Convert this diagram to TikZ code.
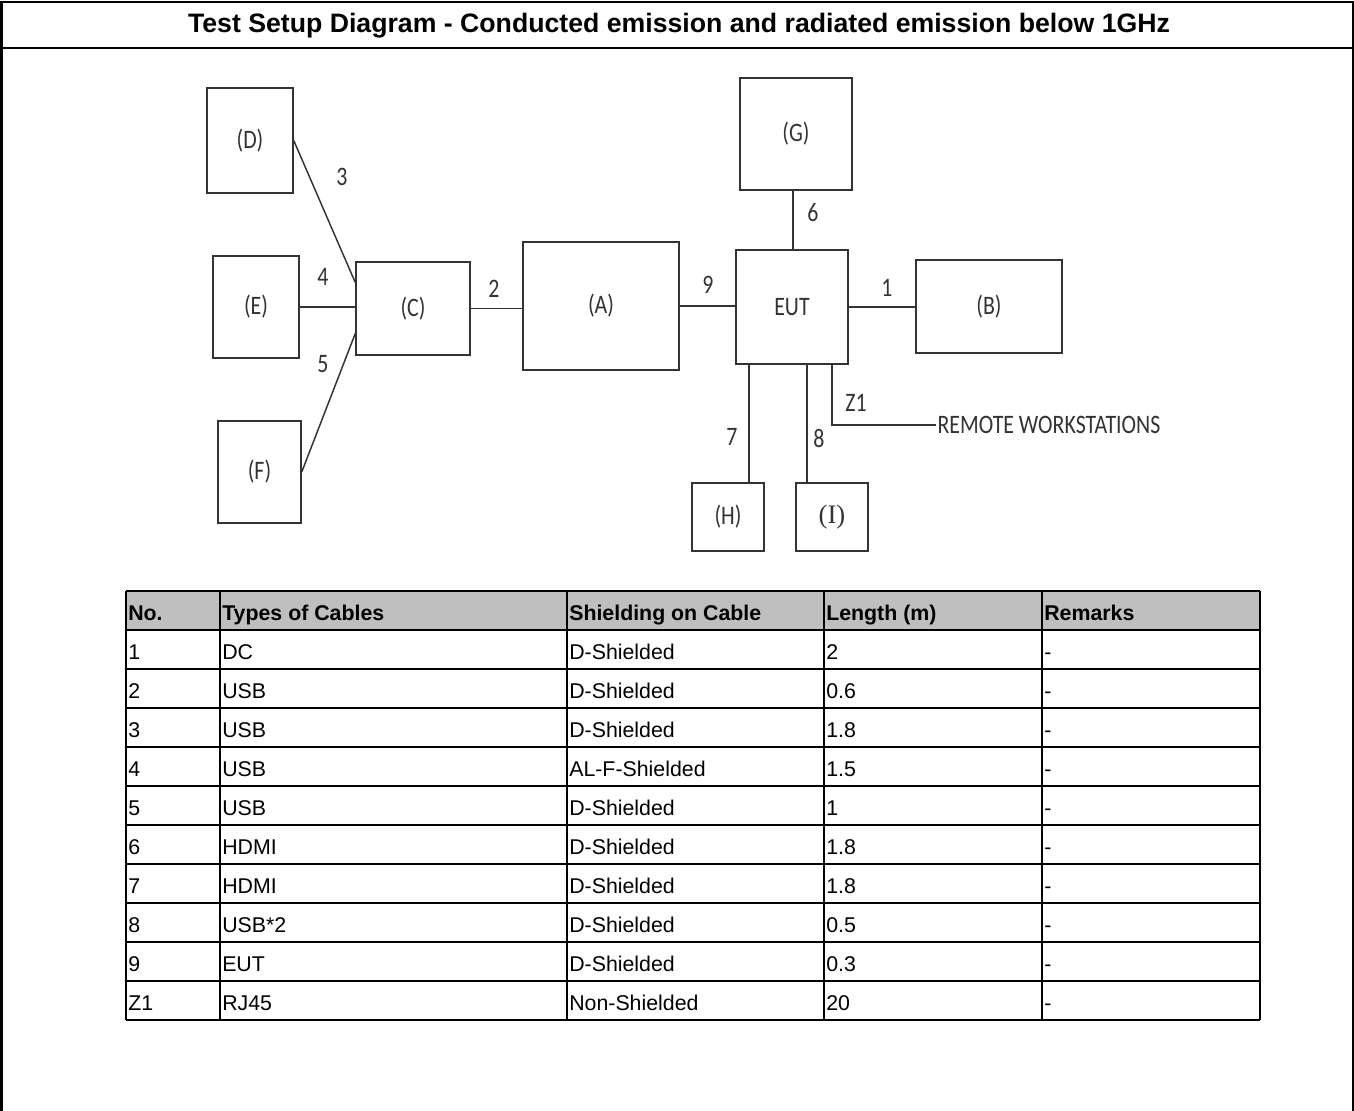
\documentclass[tikz,border=0pt]{standalone}
\usepackage{fontspec}
\setmainfont{Liberation Sans}
\newfontfamily\sketchfont[FakeStretch=0.82]{Carlito}
\newfontfamily\sketchserif{Liberation Serif}
\usetikzlibrary{calc}

\begin{document}
\begin{tikzpicture}[x=0.75pt,y=-0.75pt,
	box/.style={draw=black!80,line width=1.1pt,inner sep=0pt,text=black!80,font=\sketchfont\fontsize{20}{22}\selectfont},
	wire/.style={draw=black!80,line width=1.1pt},
	num/.style={inner sep=1pt,text=black!80,font=\sketchfont\fontsize{20}{22}\selectfont},
	cell/.style={anchor=base west,inner sep=0pt,font=\fontsize{16}{18}\selectfont},
	head/.style={cell,font=\bfseries\fontsize{16}{18}\selectfont},
	rule/.style={line width=1.5pt}]
			%%%%% START %%%%%
			\useasboundingbox (0,0) rectangle (1354,1111);
			
			\draw[rule] (1.5,1115) -- (1.5,1.5) -- (1352.5,1.5) -- (1352.5,1115);
			\draw[rule] (1.5,48) -- (1352.5,48);
			\node[font=\bfseries\fontsize{20}{22}\selectfont, anchor=base] (title) at (679,32) {Test Setup Diagram - Conducted emission and radiated emission below 1GHz};
			
			\node[box, minimum width={86*0.75pt}, minimum height={105*0.75pt}] (D) at (250,140.5) {(D)};
			\node[box, minimum width={86*0.75pt}, minimum height={102*0.75pt}] (E) at (256,307) {(E)};
			\node[box, minimum width={83*0.75pt}, minimum height={102*0.75pt}] (F) at (259.5,472) {(F)};
			\node[box, minimum width={114*0.75pt}, minimum height={93*0.75pt}] (C) at (413,308.5) {(C)};
			\node[box, minimum width={156*0.75pt}, minimum height={128*0.75pt}] (A) at (601,306) {(A)};
			\node[box, minimum width={112*0.75pt}, minimum height={112*0.75pt}] (G) at (796,134) {(G)};
			\node[box, minimum width={112*0.75pt}, minimum height={114*0.75pt}] (EUT) at (792,307) {EUT};
			\node[box, minimum width={146*0.75pt}, minimum height={93*0.75pt}] (B) at (989,306.5) {(B)};
			\node[box, minimum width={72*0.75pt}, minimum height={68*0.75pt}] (H) at (728,517) {(H)};
			\node[box, minimum width={72*0.75pt}, minimum height={68*0.75pt}, font=\sketchserif\fontsize{20}{22}\selectfont] (I) at (832,517) {(I)};
			\node[num, anchor=west] (rw) at (936,425) {REMOTE WORKSTATIONS};
			
			\draw[wire] (D.east) -- ($(C.west)+(0,-26)$);
			\draw[wire] (E.east) -- (E.east -| C.west);
			\draw[wire] (F.east) -- ($(C.west)+(0,25)$);
			\draw[wire] (C.east) -- (C.east -| A.west);
			\draw[wire] (A.east) -- (A.east -| EUT.west);
			\draw[wire] (EUT.east) -- (EUT.east -| B.west);
			\draw[wire] ($(EUT.north)+(1,0)$) -- ($(G.south)+(-3,0)$);
			\coordinate (p7) at ($(EUT.south)+(-43,0)$);
			\coordinate (p8) at ($(EUT.south)+(15,0)$);
			\coordinate (pz) at ($(EUT.south)+(40,0)$);
			\draw[wire] (p7) -- (p7 |- H.north);
			\draw[wire] (p8) -- (p8 |- I.north);
			\draw[wire] (pz) |- (rw.west);
			
			\node[num] (n1) at (887,288) {1};
			\node[num] (n2) at (494,289) {2};
			\node[num] (n3) at (342,177) {3};
			\node[num] (n4) at (323,277) {4};
			\node[num] (n5) at (323,364) {5};
			\node[num] (n6) at (813,213) {6};
			\node[num] (n7) at (732,437) {7};
			\node[num] (n8) at (819,438) {8};
			\node[num] (n9) at (708,285) {9};
			\node[num] (nz) at (856,403) {Z1};
			
			\fill[black!25] (126,591) rectangle (1260,630);
			\foreach \y in {591,630,...,1020}
				\draw[rule] (126,\y) -- (1260,\y);
			\foreach \x in {126,220,567,824,1042,1260}
				\draw[rule] (\x,591) -- (\x,1020);
			
			\node[head] (hno) at (128,620) {No.};
			\node[head] (htype) at (222,620) {Types of Cables};
			\node[head] (hshield) at (569,620) {Shielding on Cable};
			\node[head] (hlen) at (826,620) {Length (m)};
			\node[head] (hrem) at (1044,620) {Remarks};
			
			\foreach \no/\kind/\shield/\len [count=\i] in {1/DC/D-Shielded/2, 2/USB/D-Shielded/0.6, 3/USB/D-Shielded/1.8, 4/USB/AL-F-Shielded/1.5, 5/USB/D-Shielded/1, 6/HDMI/D-Shielded/1.8, 7/HDMI/D-Shielded/1.8, 8/USB*2/D-Shielded/0.5, 9/EUT/D-Shielded/0.3, Z1/RJ45/Non-Shielded/20}{
				\node[cell] (no\i) at (128,{620+39*\i}) {\no};
				\node[cell] (type\i) at (222,{620+39*\i}) {\kind};
				\node[cell] (shield\i) at (569,{620+39*\i}) {\shield};
				\node[cell] (len\i) at (826,{620+39*\i}) {\len};
				\node[cell] (rem\i) at (1044,{620+39*\i}) {-};
			}
			%%%%% END %%%%%
\end{tikzpicture}
\end{document}
